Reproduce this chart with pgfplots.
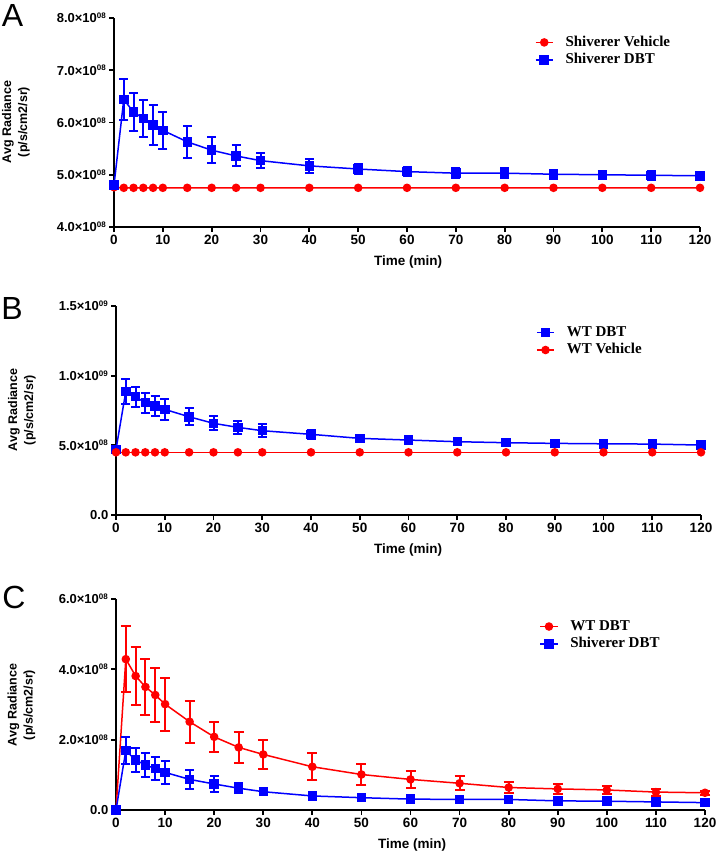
\documentclass[border=0pt]{standalone}
\usepackage{fontspec}
\setmainfont{Liberation Sans}
\newfontfamily\legfont{Liberation Serif}
\usepackage{xcolor}
\usepackage{pgfplots}
\pgfplotsset{compat=1.18}
\definecolor{gpred}{RGB}{255,0,0}
\definecolor{gpblue}{RGB}{0,0,255}
% y tick labels in GraphPad style, values in units of 1e8 (\mbox: labels sit in math mode)
\newcommand{\sci}[2]{\mbox{\fontsize{13}{14}\selectfont\bfseries #1×10\textsuperscript{\fontsize{8}{8}\selectfont\bfseries #2}}}
\newcommand{\zer}{\mbox{\fontsize{13}{14}\selectfont\bfseries 0.0}}
\pgfplotsset{
  gp/.style={
    scale only axis, xmin=0, xmax=120, xtick={0,10,...,120},
    axis x line*=bottom, axis y line*=left,
    tick align=outside, major tick length=5pt,
    axis line style={black, line width=1.7pt},
    every tick/.style={black, line width=1.7pt},
    /pgf/number format/assume math mode=true,
    xticklabel style={font=\fontsize{13.5}{14}\selectfont\bfseries},
    yticklabel style={inner sep=2.5pt},
    clip=false,
    legend cell align=left,
    legend style={draw=none, fill=none, inner sep=0pt, column sep=10pt, anchor=north west,
      font=\legfont\bfseries\fontsize{15}{17}\selectfont,
      nodes={inner sep=2pt, text height=10.5pt, text depth=3pt}},
  },
  redser/.style={gpred, line width=1.5pt, mark=*, mark size=3.5pt, mark options={solid}},
  blueser/.style={gpblue, line width=1.5pt, mark=square*, mark size=4pt, mark options={solid}},
}
\tikzset{
  ylab/.style={rotate=90, align=center, font=\fontsize{12.5}{16}\selectfont\bfseries},
  xlab/.style={font=\fontsize{13.5}{15}\selectfont\bfseries},
  panel/.style={font=\fontsize{32}{34}\selectfont},
}

\begin{document}
\begin{tikzpicture}
\path[use as bounding box] (0,0) rectangle (716pt,-853pt);

% ---------- A ----------
\begin{axis}[gp, at={(114pt,-227pt)}, anchor=south west, width=586pt, height=209pt,
  ymin=4, ymax=8, ytick={4,5,6,7,8},
  yticklabels={\sci{4.0}{08},\sci{5.0}{08},\sci{6.0}{08},\sci{7.0}{08},\sci{8.0}{08}},
  legend style={at={(0.718,0.926)}}]
\addplot[redser] coordinates {(0,4.76) (2,4.75) (4,4.75) (6,4.75) (8,4.75) (10,4.75) (15,4.75) (20,4.75) (25,4.75) (30,4.75) (40,4.75) (50,4.75) (60,4.75) (70,4.75) (80,4.75) (90,4.75) (100,4.75) (110,4.75) (120,4.75)};
\addlegendentry{Shiverer Vehicle}
\addplot[blueser, error bars/.cd, y dir=both, y explicit,
  error bar style={line width=2pt, solid},
  error mark options={rotate=90, line width=2pt, mark size=4.5pt, solid}] coordinates {
  (0,4.80) +- (0,0)
  (2,6.44) +- (0,0.40)
  (4,6.20) +- (0,0.37)
  (6,6.08) +- (0,0.35)
  (8,5.95) +- (0,0.38)
  (10,5.85) +- (0,0.35)
  (15,5.63) +- (0,0.30)
  (20,5.47) +- (0,0.25)
  (25,5.36) +- (0,0.20)
  (30,5.27) +- (0,0.15)
  (40,5.17) +- (0,0.13)
  (50,5.11) +- (0,0.10)
  (60,5.06) +- (0,0.09)
  (70,5.03) +- (0,0.09)
  (80,5.03) +- (0,0.09)
  (90,5.01) +- (0,0.09)
  (100,5.00) +- (0,0.08)
  (110,4.99) +- (0,0.09)
  (120,4.98) +- (0,0.07)};
\addlegendentry{Shiverer DBT}
\end{axis}
\node[ylab] at (16pt,-122pt) {Avg Radiance\\(p/s/cm2/sr)};
\node[xlab] at (408pt,-262pt) {Time (min)};
\node[panel] at (12.5pt,-15pt) {A};

% ---------- B ----------
\begin{axis}[gp, at={(116pt,-515pt)}, anchor=south west, width=585pt, height=209pt,
  ymin=0, ymax=15, ytick={0,5,10,15},
  yticklabels={\zer,\sci{5.0}{08},\sci{1.0}{09},\sci{1.5}{09}},
  legend style={at={(0.718,0.916)}}]
\addplot[blueser, error bars/.cd, y dir=both, y explicit,
  error bar style={line width=2pt, solid},
  error mark options={rotate=90, line width=2pt, mark size=4.5pt, solid}] coordinates {
  (0,4.70) +- (0,0)
  (2,8.85) +- (0,0.90)
  (4,8.49) +- (0,0.72)
  (6,8.06) +- (0,0.72)
  (8,7.82) +- (0,0.75)
  (10,7.58) +- (0,0.75)
  (15,7.05) +- (0,0.62)
  (20,6.58) +- (0,0.50)
  (25,6.29) +- (0,0.45)
  (30,6.05) +- (0,0.45)
  (40,5.79) +- (0,0.30)
  (50,5.50) +- (0,0.20)
  (60,5.38) +- (0,0.15)
  (70,5.26) +- (0,0.12)
  (80,5.19) +- (0,0.12)
  (90,5.14) +- (0,0.12)
  (100,5.11) +- (0,0.12)
  (110,5.09) +- (0,0.12)
  (120,5.02) +- (0,0.12)};
\addlegendentry{WT DBT}
\addplot[redser] coordinates {(0,4.50) (2,4.50) (4,4.50) (6,4.50) (8,4.50) (10,4.50) (15,4.50) (20,4.50) (25,4.50) (30,4.50) (40,4.50) (50,4.50) (60,4.50) (70,4.50) (80,4.50) (90,4.50) (100,4.50) (110,4.50) (120,4.50)};
\addlegendentry{WT Vehicle}
\end{axis}
\node[ylab] at (22pt,-410pt) {Avg Radiance\\(p/s/cm2/sr)};
\node[xlab] at (408pt,-550pt) {Time (min)};
\node[panel] at (12pt,-308pt) {B};

% ---------- C ----------
\begin{axis}[gp, at={(116pt,-810pt)}, anchor=south west, width=589pt, height=211pt,
  ymin=0, ymax=6, ytick={0,2,4,6},
  yticklabels={\zer,\sci{2.0}{08},\sci{4.0}{08},\sci{6.0}{08}},
  legend style={at={(0.719,0.912)}}]
\addplot[redser, error bars/.cd, y dir=both, y explicit,
  error bar style={line width=2pt, solid},
  error mark options={rotate=90, line width=2pt, mark size=5pt, solid}] coordinates {
  (0,0) +- (0,0)
  (2,4.29) +- (0,0.94)
  (4,3.81) +- (0,0.82)
  (6,3.50) +- (0,0.80)
  (8,3.27) +- (0,0.77)
  (10,3.01) +- (0,0.75)
  (15,2.51) +- (0,0.60)
  (20,2.08) +- (0,0.42)
  (25,1.78) +- (0,0.43)
  (30,1.58) +- (0,0.42)
  (40,1.23) +- (0,0.38)
  (50,1.01) +- (0,0.30)
  (60,0.87) +- (0,0.25)
  (70,0.76) +- (0,0.20)
  (80,0.64) +- (0,0.17)
  (90,0.60) +- (0,0.14)
  (100,0.57) +- (0,0.12)
  (110,0.51) +- (0,0.10)
  (120,0.49) +- (0,0.05)};
\addlegendentry{WT DBT}
\addplot[blueser, error bars/.cd, y dir=both, y explicit,
  error bar style={line width=2pt, solid},
  error mark options={rotate=90, line width=2pt, mark size=4.5pt, solid}] coordinates {
  (0,0) +- (0,0)
  (2,1.69) +- (0,0.38)
  (4,1.42) +- (0,0.35)
  (6,1.28) +- (0,0.33)
  (8,1.18) +- (0,0.33)
  (10,1.07) +- (0,0.32)
  (15,0.87) +- (0,0.27)
  (20,0.74) +- (0,0.22)
  (25,0.62) +- (0,0.15)
  (30,0.52) +- (0,0.10)
  (40,0.40) +- (0,0.05)
  (50,0.35) +- (0,0.05)
  (60,0.31) +- (0,0.04)
  (70,0.30) +- (0,0.04)
  (80,0.30) +- (0,0.04)
  (90,0.26) +- (0,0.04)
  (100,0.25) +- (0,0.04)
  (110,0.23) +- (0,0.04)
  (120,0.21) +- (0,0.04)};
\addlegendentry{Shiverer DBT}
\end{axis}
\node[ylab] at (21.5pt,-705pt) {Avg Radiance\\(p/s/cm2/sr)};
\node[xlab] at (412pt,-845pt) {Time (min)};
\node[panel] at (14pt,-597pt) {C};
\end{tikzpicture}
\end{document}
